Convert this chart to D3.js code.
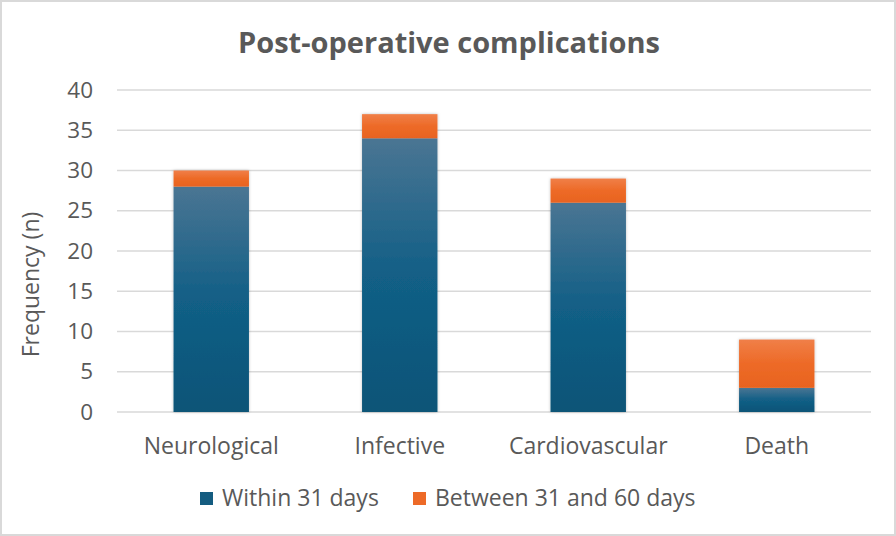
<!DOCTYPE html>
<html><head><meta charset="utf-8">
<script src="https://cdn.jsdelivr.net/npm/d3@7"></script>
<style>
body{margin:0;background:#fff;}
svg{display:block;font-family:"Open Sans",sans-serif;}
</style></head>
<body><svg id="c" width="896" height="536"></svg>
<script>
const categories = ["Neurological","Infective","Cardiovascular","Death"];
const within31 = [28,34,26,3];
const between31and60 = [2,3,3,6];
const seriesNames = ["Within 31 days","Between 31 and 60 days"];
const yTicks = [0,5,10,15,20,25,30,35,40];

const svg = d3.select("#c");
const W=896,H=536;
const m={l:117,r:25,t:90,b:124};
svg.append("rect").attr("x",1).attr("y",1).attr("width",W-2).attr("height",H-2)
  .attr("fill","#fff").attr("stroke","#d9d9d9").attr("stroke-width",2);

const defs = svg.append("defs");
const gb = defs.append("linearGradient").attr("id","gBlue").attr("x1",0).attr("y1",0).attr("x2",0).attr("y2",1);
gb.append("stop").attr("offset","0%").attr("stop-color","#4a7593");
gb.append("stop").attr("offset","50%").attr("stop-color","#125f86");
gb.append("stop").attr("offset","100%").attr("stop-color","#0b5477");
const go = defs.append("linearGradient").attr("id","gOrange").attr("x1",0).attr("y1",0).attr("x2",0).attr("y2",1);
go.append("stop").attr("offset","0%").attr("stop-color","#f07f48");
go.append("stop").attr("offset","50%").attr("stop-color","#ed6a27");
go.append("stop").attr("offset","100%").attr("stop-color","#e8631f");
const f = defs.append("filter").attr("id","sh").attr("x","-20%").attr("y","-20%").attr("width","140%").attr("height","140%");
f.append("feDropShadow").attr("dx",0).attr("dy",0).attr("stdDeviation",1.5).attr("flood-color","#000").attr("flood-opacity",0.25);

const x = d3.scaleBand().domain(categories).range([m.l,W-m.r]).paddingInner(0.6).paddingOuter(0.3);
const y = d3.scaleLinear().domain([0,40]).range([H-m.b,m.t]);

const grid = svg.append("g");
grid.selectAll("line").data(yTicks).join("line")
  .attr("x1",m.l).attr("x2",W-m.r).attr("y1",d=>y(d)).attr("y2",d=>y(d))
  .attr("stroke","#d9d9d9").attr("stroke-width",1.3);

const yAxis = svg.append("g").attr("transform",`translate(${m.l},0)`)
  .call(d3.axisLeft(y).tickValues(yTicks).tickSize(0).tickPadding(24));
yAxis.select(".domain").remove();
yAxis.selectAll("text").attr("font-size",22.5).attr("fill","#595959").attr("font-family","'Open Sans',sans-serif");

const xAxis = svg.append("g").attr("transform",`translate(0,${H-m.b})`)
  .call(d3.axisBottom(x).tickSize(0).tickPadding(26));
xAxis.select(".domain").remove();
xAxis.selectAll("text").attr("font-size",23).attr("fill","#595959").attr("font-family","'Open Sans',sans-serif");

const data = categories.map((c,i)=>({cat:c,a:within31[i],b:between31and60[i]}));
const bars = svg.append("g").attr("filter","url(#sh)");
bars.selectAll("rect.a").data(data).join("rect").attr("class","a")
  .attr("x",d=>x(d.cat)).attr("width",x.bandwidth())
  .attr("y",d=>y(d.a)).attr("height",d=>y(0)-y(d.a)).attr("fill","url(#gBlue)");
bars.selectAll("rect.b").data(data).join("rect").attr("class","b")
  .attr("x",d=>x(d.cat)).attr("width",x.bandwidth())
  .attr("y",d=>y(d.a+d.b)).attr("height",d=>y(d.a)-y(d.a+d.b)).attr("fill","url(#gOrange)");

svg.append("text").attr("x",449).attr("y",53).attr("text-anchor","middle")
  .attr("font-size",29).attr("font-weight","bold").attr("fill","#595959").text("Post-operative complications");

svg.append("text").attr("transform",`translate(38.5,284.5) rotate(-90)`)
  .attr("text-anchor","middle").attr("font-size",23).attr("fill","#595959").text("Frequency (n)");

const leg = svg.append("g");
const legX=[200,413];
const legCol=["#145c80","#ed6a27"];
seriesNames.forEach((s,i)=>{
  leg.append("rect").attr("x",legX[i]).attr("y",492).attr("width",13).attr("height",13).attr("fill",legCol[i]);
  leg.append("text").attr("x",legX[i]+22).attr("y",506).attr("font-size",23).attr("fill","#595959").text(s);
});
</script></body></html>
